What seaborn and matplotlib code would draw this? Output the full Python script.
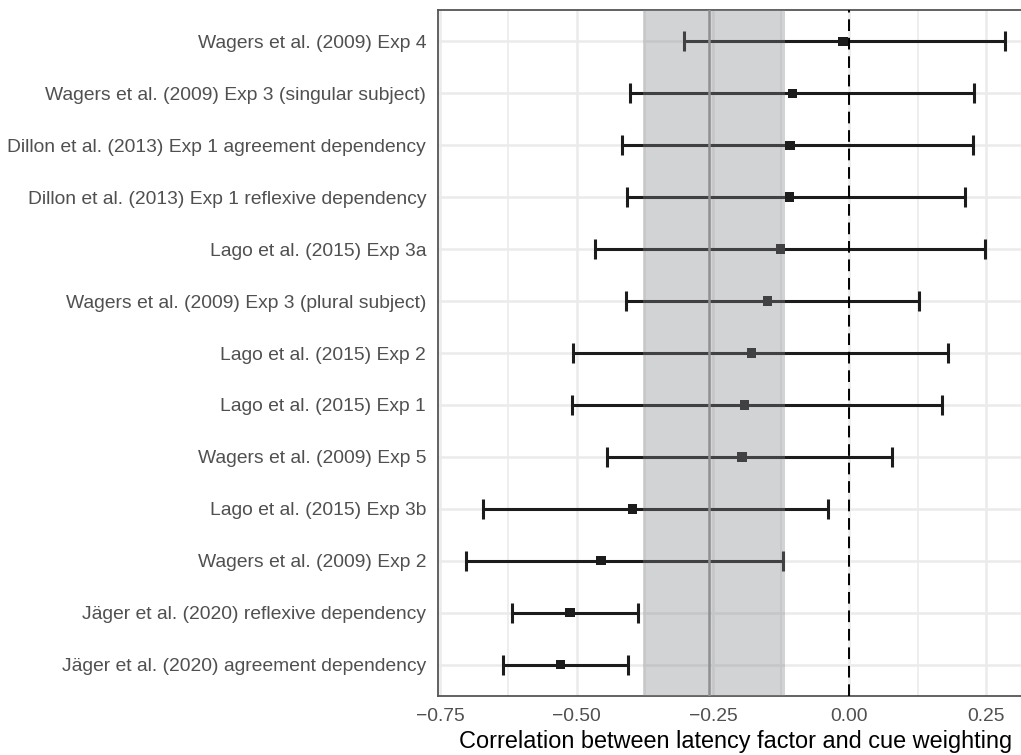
import numpy as np
import pandas as pd
import matplotlib
matplotlib.use('Agg')
import matplotlib.pyplot as plt
import seaborn as sns

# ── dados (de cima para baixo, como no gráfico) ──────────────
estudos = [
    'Wagers et al. (2009) Exp 4',
    'Wagers et al. (2009) Exp 3 (singular subject)',
    'Dillon et al. (2013) Exp 1 agreement dependency',
    'Dillon et al. (2013) Exp 1 reflexive dependency',
    'Lago et al. (2015) Exp 3a',
    'Wagers et al. (2009) Exp 3 (plural subject)',
    'Lago et al. (2015) Exp 2',
    'Lago et al. (2015) Exp 1',
    'Wagers et al. (2009) Exp 5',
    'Lago et al. (2015) Exp 3b',
    'Wagers et al. (2009) Exp 2',
    'Jäger et al. (2020) reflexive dependency',
    'Jäger et al. (2020) agreement dependency',
]
media = [-0.012, -0.105, -0.109, -0.110, -0.126, -0.150, -0.180,
         -0.193, -0.197, -0.397, -0.455, -0.512, -0.530]
inferior = [-0.303, -0.402, -0.416, -0.408, -0.466, -0.409, -0.506,
            -0.508, -0.445, -0.672, -0.703, -0.618, -0.635]
superior = [0.285, 0.228, 0.226, 0.211, 0.248, 0.127, 0.181,
            0.169, 0.078, -0.040, -0.121, -0.387, -0.406]

# intervalo agregado (faixa cinza) e média
faixa_inf = -0.378
faixa_sup = -0.119
media_geral = -0.257

xticks = [-0.75, -0.50, -0.25, 0.00, 0.25]
xticks_menores = [-0.625, -0.375, -0.125, 0.125]

# ordem invertida: o primeiro estudo fica no topo
df = pd.DataFrame({'estudo': estudos, 'media': media,
                   'inf': inferior, 'sup': superior}).iloc[::-1].reset_index(drop=True)

sns.set_style('white')
plt.rcParams['font.family'] = ['Liberation Sans', 'DejaVu Sans']

fig = plt.figure(figsize=(10.21, 7.55), dpi=100)
ax = fig.add_axes([438 / 1021, 59 / 755, 596 / 1021, 686 / 755])

# grade
ax.set_xticks(xticks)
ax.set_xticks(xticks_menores, minor=True)
ax.grid(True, which='major', color='#ebebeb', lw=1.8, zorder=0)
ax.grid(True, which='minor', axis='x', color='#ebebeb', lw=1.2, zorder=0)

# barras de erro
pos = np.arange(len(df))
ax.errorbar(df['media'], pos,
            xerr=[df['media'] - df['inf'], df['sup'] - df['media']],
            fmt='none', ecolor='#1c1c1c', elinewidth=2.2, capsize=7.4,
            capthick=2.2, zorder=3)
sns.scatterplot(data=df, x='media', y='estudo', marker='s', s=44,
                color='#1c1c1c', edgecolor='none', zorder=4, ax=ax)

# faixa do efeito agregado
ax.axvspan(faixa_inf, faixa_sup, color='#83858a', alpha=0.36, lw=0, zorder=5)
ax.axvline(media_geral, color='#909090', lw=1.8, zorder=6)
ax.axvline(0, color='black', lw=1.4, ls=(0, (6, 3.5)), zorder=6)

ax.set_xlim(-0.7537, 0.338)
ax.set_ylim(-0.6, len(df) - 0.4)
ax.set_yticks(pos)
ax.set_yticklabels(df['estudo'])
ax.set_xticklabels([f'{v:.2f}'.replace('-', '\u2212') for v in xticks])

ax.tick_params(axis='both', which='major', length=5, width=1.2,
               color='#333333', labelcolor='#505050', labelsize=13.9, pad=3.5)
ax.tick_params(axis='x', which='minor', length=0)

for lado in ['left', 'bottom', 'top']:
    ax.spines[lado].set_color('#555555')
    ax.spines[lado].set_linewidth(1.3)
ax.spines['right'].set_visible(False)

ax.set_ylabel('')
ax.set_xlabel('Correlation between latency factor and cue weighting',
              fontsize=16.9, color='black', labelpad=4)

plt.savefig('out.png', dpi=100)
plt.close()
